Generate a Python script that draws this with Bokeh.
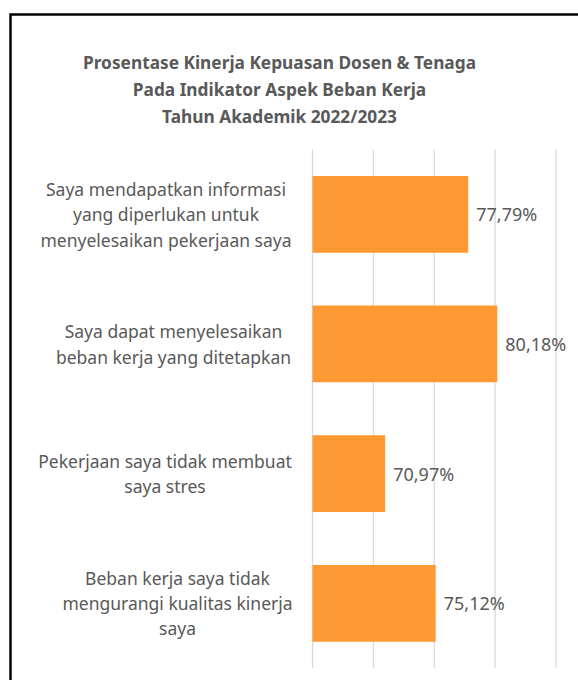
from bokeh.plotting import figure
from bokeh.models import Range1d
from bokeh.core.properties import value
from bokeh.embed import file_html
from bokeh.resources import INLINE

# ---- data ----
title_lines = [
    "Prosentase Kinerja Kepuasan Dosen & Tenaga",
    "Pada Indikator Aspek Beban Kerja",
    "Tahun Akademik 2022/2023",
]
categories = [
    "Saya mendapatkan informasi\nyang diperlukan untuk\nmenyelesaikan pekerjaan saya",
    "Saya dapat menyelesaikan\nbeban kerja yang ditetapkan",
    "Pekerjaan saya tidak membuat\nsaya stres",
    "Beban kerja saya tidak\nmengurangi kualitas kinerja\nsaya",
]
values = [77.79, 80.18, 70.97, 75.12]
value_labels = ["77,79%", "80,18%", "70,97%", "75,12%"]
x_ticks = [65, 70, 75, 80, 85]

# ---- layout (canvas pixels) ----
W, H = 578, 680
AX_LEFT_PX, AX_RIGHT_PX = 312.0, 555.5
PLOT_TOP_PX, PLOT_BOTTOM_PX = 149.0, 667.6
LABEL_CENTER_PX = [165.5, 173.0, 164.5, 177.0]
TITLE_CENTER_PX = (279.0, 89.0)
BORDER_X_PX, BORDER_Y_PX = 10.0, 14.0

TEXT_COLOR = "#595959"
BAR_COLOR = "#FF9933"
GRID_COLOR = "#D9D9D9"
FONT = "Noto Sans"

n = len(categories)
kx = (AX_RIGHT_PX - AX_LEFT_PX) / (x_ticks[-1] - x_ticks[0])
x_start = x_ticks[0] - AX_LEFT_PX / kx
x_end = x_start + W / kx
ky = (PLOT_BOTTOM_PX - PLOT_TOP_PX) / n
y_start = -(H - PLOT_BOTTOM_PX) / ky
y_end = y_start + H / ky


def px_x(px):
    return x_start + px / kx


def px_y(py):
    return y_end - py / ky


ys = [n - 1 - i + 0.5 for i in range(n)]

p = figure(width=W, height=H, output_backend="svg", toolbar_location=None,
           x_range=Range1d(x_start, x_end), y_range=Range1d(y_start, y_end),
           x_axis_location=None, y_axis_location=None, min_border=0,
           outline_line_color=None, background_fill_color="white",
           border_fill_color="white")
p.grid.visible = False

# gridlines
p.segment(x0=x_ticks, x1=x_ticks, y0=[0] * len(x_ticks), y1=[n] * len(x_ticks),
          line_color=GRID_COLOR, line_width=1.2)

# bars
p.hbar(y=ys, left=x_ticks[0], right=values, height=0.592,
       fill_color=BAR_COLOR, line_color=None)

# value labels
p.text(x=values, y=ys, text=value_labels, x_offset=8, text_align="left",
       text_baseline="middle", text_color=TEXT_COLOR, text_font=value(FONT),
       text_font_size="18px")

# category labels
p.text(x=[px_x(c) for c in LABEL_CENTER_PX], y=ys, text=categories,
       text_align="center", text_baseline="middle", text_color=TEXT_COLOR,
       text_font=value(FONT), text_font_size="17.5px", text_line_height=1.05)

# title
p.text(x=[px_x(TITLE_CENTER_PX[0])], y=[px_y(TITLE_CENTER_PX[1])],
       text=["\n".join(title_lines)], text_align="center", text_baseline="middle",
       text_color=TEXT_COLOR, text_font=value(FONT), text_font_size="17.3px",
       text_font_style="bold", text_line_height=1.18)

# chart border (top and left visible)
p.line(x=[px_x(W), px_x(BORDER_X_PX), px_x(BORDER_X_PX)],
       y=[px_y(BORDER_Y_PX), px_y(BORDER_Y_PX), px_y(H)],
       line_color="black", line_width=2.5, line_join="miter")

open("out.html", "w").write(file_html(p, INLINE))
